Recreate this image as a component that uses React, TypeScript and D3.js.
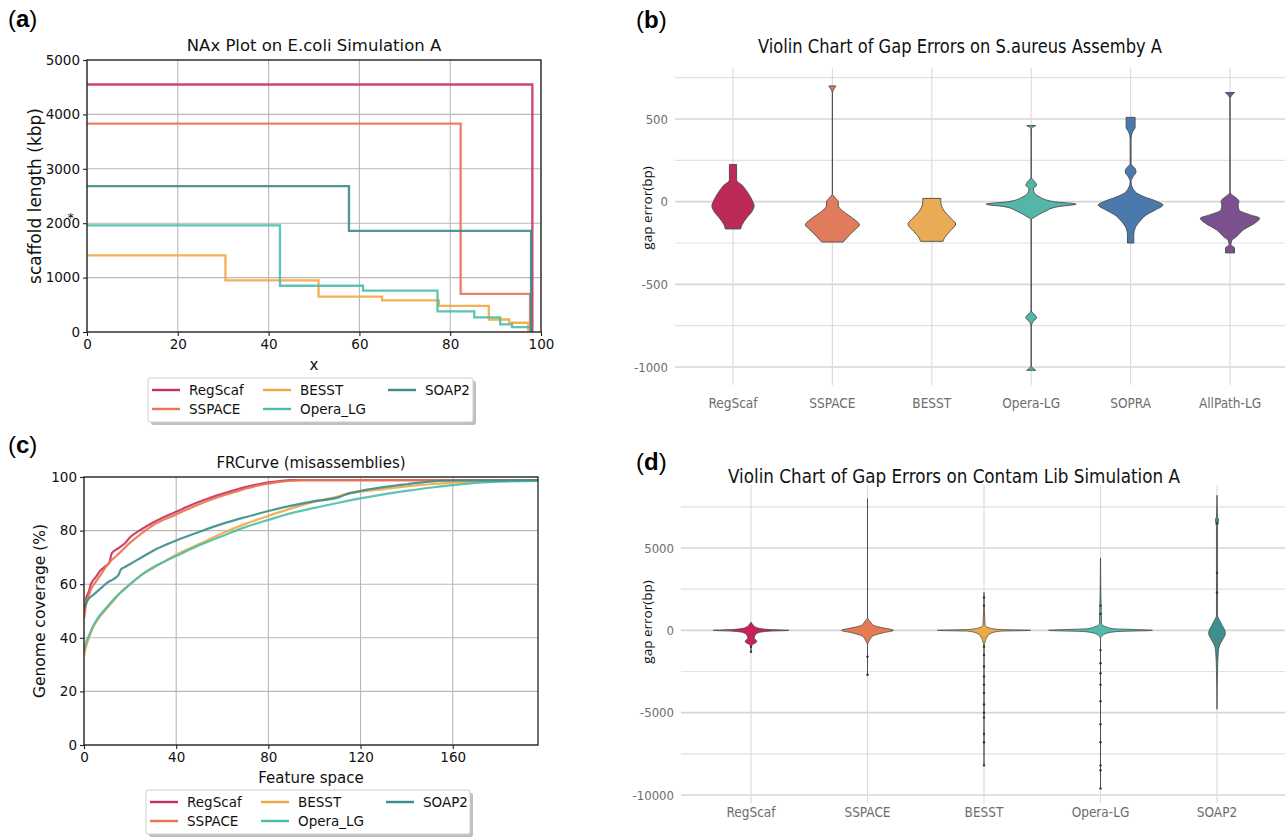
import { useEffect, useRef } from "react";
import * as d3 from "d3";

// ---- (a) NAx plot, step points [x, kbp] ----
const mplSeries = ["RegScaf", "SSPACE", "BESST", "Opera_LG", "SOAP2"];
const mplColors = ["#c7315c", "#ea7350", "#f2a744", "#4bbdaa", "#3b8c8b"];
const naxRegScaf = [[0, 4550], [98.1, 0]];
const naxSSPACE = [[0, 3830], [82.3, 700], [97.6, 0]];
const naxBESST = [[0, 1410], [30.5, 950], [51, 650], [65, 580], [77.5, 480], [88.5, 230], [93, 170], [97.2, 30], [97.6, 0]];
const naxOperaLG = [[0, 1960], [42.5, 850], [60.8, 760], [77.2, 380], [85.3, 270], [91, 140], [93.6, 90], [97.8, 0]];
const naxSOAP2 = [[0, 2680], [57.7, 1860], [97.8, 0]];
const naxXTicks = [0, 20, 40, 60, 80, 100];
const naxYTicks = [0, 1000, 2000, 3000, 4000, 5000];

// ---- (c) FRCurve points [feature space, coverage %] ----
const frRegScaf = [[0, 49], [0.5, 52], [1, 55], [2, 57], [3, 60], [4, 61.5], [5, 62.5], [7, 65], [9, 66.5], [11, 68], [12, 71.5], [15, 73.5], [18, 75.5], [20, 77.5], [25, 80.5], [30, 83], [35, 85.2], [40, 87], [45, 89], [50, 90.8], [55, 92.3], [60, 93.7], [65, 95], [70, 96.2], [75, 97.2], [80, 98], [85, 98.5], [90, 98.8], [197, 98.8]];
const frSSPACE = [[0, 47], [0.5, 50], [1, 53], [2, 55.5], [3, 58], [4, 59.5], [6, 62], [8, 64.5], [10, 67], [12, 69], [14, 70.5], [17, 73], [20, 75.5], [25, 79], [30, 82], [35, 84.2], [40, 86], [45, 88], [50, 89.8], [55, 91.5], [60, 93], [65, 94.3], [70, 95.6], [75, 96.7], [80, 97.5], [85, 98.2], [90, 98.6], [95, 98.8], [197, 98.8]];
const frBESST = [[0, 33], [1, 37], [2, 39.5], [3, 42], [4, 44], [5, 45.5], [7, 48], [10, 51], [13, 54], [16, 57], [20, 60], [25, 63.5], [30, 66], [35, 68.5], [40, 71], [50, 75], [60, 79], [70, 82.5], [80, 85.5], [90, 88.3], [100, 90.8], [110, 92.7], [115, 94], [120, 94.5], [130, 95.5], [140, 96.5], [150, 97.3], [160, 97.9], [170, 98.4], [197, 98.6]];
const frOperaLG = [[0, 35], [1, 38.5], [2, 40.5], [3, 42.5], [4, 44.5], [5, 46], [7, 48.5], [10, 51.5], [13, 54.5], [16, 57], [20, 60], [25, 63.5], [30, 66.3], [35, 68.5], [40, 70.5], [50, 74.5], [60, 78], [70, 81.3], [80, 84], [90, 86.5], [100, 88.5], [110, 90.3], [120, 92], [130, 93.5], [140, 94.8], [150, 96], [160, 97], [170, 97.8], [180, 98.3], [197, 98.5]];
const frSOAP2 = [[0, 51], [1, 53], [2, 54.5], [4, 56], [6, 57.5], [8, 59], [10, 60.5], [13, 62], [15, 63.5], [16, 65.5], [18, 66.5], [22, 68.5], [26, 70.5], [30, 72.5], [35, 74.5], [40, 76.3], [50, 79.5], [60, 82.5], [70, 85], [80, 87.3], [90, 89.3], [100, 91], [110, 92.3], [113, 93.3], [120, 94.8], [130, 96.2], [140, 97.3], [150, 98.3], [160, 98.7], [197, 98.8]];
const frXTicks = [0, 40, 80, 120, 160];
const frYTicks = [0, 20, 40, 60, 80, 100];

// ---- (b) violins: [gap error, relative density] ----
const bCategories = ["RegScaf", "SSPACE", "BESST", "Opera-LG", "SOPRA", "AllPath-LG"];
const bColors = ["#bd2a58", "#e07b5b", "#e9ab53", "#55b6a7", "#4a79ab", "#7b5190"];
const bRegScaf = [[225, 0.08], [130, 0.08], [100, 0.2], [50, 0.34], [0, 0.44], [-25, 0.47], [-60, 0.42], [-100, 0.3], [-140, 0.2], [-165, 0.17]];
const bSSPACE = [[700, 0.08], [655, 0], [50, 0], [30, 0.04], [0, 0.13], [-20, 0.13], [-50, 0.2], [-80, 0.35], [-110, 0.5], [-140, 0.6], [-170, 0.5], [-210, 0.35], [-244, 0.24]];
const bBESST = [[20, 0.2], [0, 0.2], [-50, 0.26], [-100, 0.42], [-135, 0.53], [-180, 0.4], [-220, 0.28], [-240, 0.25]];
const bOperaLG = [[460, 0.1], [440, 0], [150, 0], [120, 0.08], [100, 0.12], [80, 0.05], [60, 0.06], [30, 0.18], [0, 0.5], [-15, 1.0], [-30, 0.6], [-60, 0.3], [-90, 0.1], [-110, 0], [-660, 0], [-690, 0.1], [-700, 0.12], [-730, 0.03], [-760, 0], [-990, 0], [-1020, 0.1]];
const bSOPRA = [[510, 0.1], [450, 0.1], [420, 0.04], [380, 0.01], [230, 0.01], [200, 0.1], [180, 0.12], [150, 0.05], [120, 0.01], [60, 0.1], [30, 0.3], [0, 0.6], [-20, 0.72], [-50, 0.55], [-80, 0.35], [-120, 0.2], [-160, 0.1], [-200, 0.07], [-250, 0.07]];
const bAllPathLG = [[660, 0.1], [620, 0], [60, 0], [40, 0.05], [20, 0.15], [0, 0.2], [-20, 0.18], [-50, 0.2], [-80, 0.45], [-100, 0.66], [-130, 0.55], [-170, 0.3], [-210, 0.15], [-235, 0.04], [-260, 0.02], [-280, 0.1], [-310, 0.1]];
const bYTicks = [500, 0, -500, -1000];

// ---- (d) violins: [gap error, relative density] and outlier dots ----
const dCategories = ["RegScaf", "SSPACE", "BESST", "Opera-LG", "SOAP2"];
const dColors = ["#c8215a", "#e57a55", "#e9ac45", "#50bcae", "#3f8e8f"];
const dRegScaf = [[500, 0], [300, 0.05], [150, 0.12], [50, 0.35], [0, 0.73], [-50, 0.35], [-150, 0.14], [-300, 0.08], [-500, 0.06], [-600, 0.1], [-700, 0.11], [-850, 0.04], [-1000, 0], [-1300, 0]];
const dSSPACE = [[8000, 0], [800, 0], [500, 0.06], [300, 0.12], [150, 0.3], [0, 0.5], [-150, 0.3], [-350, 0.1], [-600, 0.04], [-900, 0], [-2700, 0]];
const dBESST = [[2300, 0], [300, 0.02], [150, 0.1], [50, 0.3], [0, 0.9], [-50, 0.3], [-200, 0.12], [-400, 0.06], [-700, 0.02], [-900, 0], [-8200, 0]];
const dOperaLG = [[4400, 0], [400, 0.02], [200, 0.12], [100, 0.25], [0, 1.0], [-80, 0.3], [-200, 0.1], [-350, 0.03], [-500, 0], [-9600, 0]];
const dSOAP2 = [[8200, 0], [6900, 0.01], [6700, 0.03], [6300, 0.01], [900, 0.01], [600, 0.05], [300, 0.1], [0, 0.15], [-200, 0.16], [-500, 0.12], [-900, 0.05], [-1300, 0.025], [-2500, 0.01], [-4800, 0]];
const dDotsRegScaf = [-1000, -1300];
const dDotsSSPACE = [-1600, -2700];
const dDotsBESST = [2000, 1500, -1000, -1500, -2200, -2800, -3300, -3800, -4500, -5000, -5300, -6300, -6800, -8200];
const dDotsOperaLG = [1500, 1000, -1200, -2000, -2600, -3300, -4300, -5700, -6800, -8200, -8500, -9600];
const dDotsSOAP2 = [6500, 3500, 2300];
const dYTicks = [5000, 0, -5000, -10000];

const MPL_FONT = "'DejaVu Sans', sans-serif";
const GG_FONT = "'Liberation Sans Narrow', 'DejaVu Sans Condensed', 'Liberation Sans', sans-serif";

const App = () => {
  const svgRef = useRef<SVGSVGElement | null>(null);

  useEffect(() => {
    const svg = d3.select(svgRef.current);
    svg.selectAll("*").remove();

    const panelLabel = (x: number, y: number, letter: string) => {
      const t = svg.append("text").attr("x", x).attr("y", y)
        .attr("font-family", "'Liberation Sans', Arial, sans-serif").attr("font-size", 24).attr("fill", "#000");
      t.append("tspan").text("(");
      t.append("tspan").attr("font-weight", "bold").text(letter);
      t.append("tspan").text(")");
    };

    // matplotlib style panel
    const mplPanel = (o: any) => {
      const x = d3.scaleLinear().domain(o.xDomain).range([o.L, o.R]);
      const y = d3.scaleLinear().domain(o.yDomain).range([o.B, o.T]);
      const g = svg.append("g");
      g.selectAll(".gx").data(o.xTicks).join("line")
        .attr("x1", (d: number) => x(d)).attr("x2", (d: number) => x(d))
        .attr("y1", o.T).attr("y2", o.B).attr("stroke", "#b8b8b8").attr("stroke-width", 1.1);
      g.selectAll(".gy").data(o.yTicks).join("line")
        .attr("y1", (d: number) => y(d)).attr("y2", (d: number) => y(d))
        .attr("x1", o.L).attr("x2", o.R).attr("stroke", "#b8b8b8").attr("stroke-width", 1.1);

      const clipId = "clip" + o.id;
      svg.append("clipPath").attr("id", clipId).append("rect")
        .attr("x", o.L).attr("y", o.T - 2).attr("width", o.R - o.L + 2).attr("height", o.B - o.T + 2);
      const line = d3.line<number[]>().x((d) => x(d[0])).y((d) => y(d[1])).curve(o.curve);
      const lg = g.append("g").attr("clip-path", `url(#${clipId})`);
      o.series.forEach((s: number[][], i: number) => {
        lg.append("path").datum(s).attr("fill", "none").attr("stroke", mplColors[i])
          .attr("stroke-width", o.lw).attr("stroke-opacity", 0.9).attr("d", line);
      });

      g.append("rect").attr("x", o.L).attr("y", o.T).attr("width", o.R - o.L).attr("height", o.B - o.T)
        .attr("fill", "none").attr("stroke", "#222").attr("stroke-width", 1.3);

      const xa = g.append("g").attr("transform", `translate(0,${o.B})`)
        .call(d3.axisBottom(x).tickValues(o.xTicks).tickSize(4).tickPadding(3).tickFormat(d3.format("d")));
      const ya = g.append("g").attr("transform", `translate(${o.L},0)`)
        .call(d3.axisLeft(y).tickValues(o.yTicks).tickSize(4).tickPadding(3).tickFormat(d3.format("d")));
      [xa, ya].forEach((a) => {
        a.select(".domain").remove();
        a.selectAll("line").attr("stroke", "#222").attr("stroke-width", 1.1);
        a.selectAll("text").attr("font-family", MPL_FONT).attr("font-size", 13.5).attr("fill", "#111");
      });

      g.append("text").attr("x", (o.L + o.R) / 2).attr("y", o.T - 9).attr("text-anchor", "middle")
        .attr("font-family", MPL_FONT).attr("font-size", o.titleSize).attr("fill", "#111").text(o.title);
      g.append("text").attr("x", (o.L + o.R) / 2).attr("y", o.xLabelY).attr("text-anchor", "middle")
        .attr("font-family", MPL_FONT).attr("font-size", 15).attr("fill", "#111").text(o.xLabel);
      g.append("text").attr("transform", `translate(${o.yLabelX},${(o.T + o.B) / 2}) rotate(-90)`)
        .attr("text-anchor", "middle").attr("font-family", MPL_FONT).attr("font-size", o.yLabelSize)
        .attr("fill", "#111").text(o.yLabel);

      // legend
      const [lgX, lgY, lgW, lgH] = o.legend;
      g.append("rect").attr("x", lgX + 3).attr("y", lgY + 3).attr("width", lgW).attr("height", lgH)
        .attr("rx", 2).attr("fill", "#8a8a8a").attr("opacity", 0.55);
      g.append("rect").attr("x", lgX).attr("y", lgY).attr("width", lgW).attr("height", lgH)
        .attr("rx", 2).attr("fill", "#fff").attr("stroke", "#cfcfcf");
      const colX = [lgX + 4, lgX + 115, lgX + 240];
      mplSeries.forEach((name, i) => {
        const cx = colX[Math.floor(i / 2)];
        const cy = lgY + 12 + (i % 2) * o.legendRow;
        g.append("line").attr("x1", cx).attr("x2", cx + 28).attr("y1", cy).attr("y2", cy)
          .attr("stroke", mplColors[i]).attr("stroke-width", 2.4);
        g.append("text").attr("x", cx + 37).attr("y", cy + 5).attr("font-family", MPL_FONT)
          .attr("font-size", 13.5).attr("fill", "#111").text(name);
      });
      return { x, y };
    };

    panelLabel(8, 27, "a");
    const pa = mplPanel({
      id: "a", L: 87, R: 541, T: 60, B: 332, xDomain: [0, 100], yDomain: [0, 5000],
      xTicks: naxXTicks, yTicks: naxYTicks, lw: 2.3, curve: d3.curveStepAfter,
      series: [naxRegScaf, naxSSPACE, naxBESST, naxOperaLG, naxSOAP2],
      title: "NAx Plot on E.coli Simulation A", titleSize: 16.5, xLabel: "x", xLabelY: 370,
      yLabel: "scaffold length (kbp)", yLabelX: 41, yLabelSize: 17,
      legend: [148, 378, 325, 44], legendRow: 19,
    });
    svg.append("text").attr("x", pa.x(-3.6)).attr("y", pa.y(2000) - 1).attr("text-anchor", "middle")
      .attr("font-family", MPL_FONT).attr("font-size", 13).attr("fill", "#111").text("*");

    panelLabel(8, 453, "c");
    mplPanel({
      id: "c", L: 84, R: 538, T: 477, B: 745, xDomain: [0, 197], yDomain: [0, 100],
      xTicks: frXTicks, yTicks: frYTicks, lw: 2.2, curve: d3.curveMonotoneX,
      series: [frRegScaf, frSSPACE, frBESST, frOperaLG, frSOAP2],
      title: "FRCurve (misassemblies)", titleSize: 15, xLabel: "Feature space", xLabelY: 783,
      yLabel: "Genome coverage (%)", yLabelX: 45, yLabelSize: 15.5,
      legend: [146, 790, 324, 44], legendRow: 19,
    });

    // ggplot-style violin panel
    const ggPanel = (o: any) => {
      const y = d3.scaleLinear().domain(o.yDomain).range(o.yRange);
      const x = d3.scalePoint<string>().domain(o.categories).range(o.xRange);
      const w = d3.scaleLinear().domain([0, 1]).range([0, o.maxHalf]);
      const g = svg.append("g");
      g.selectAll(".gh").data(o.gridLines).join("line")
        .attr("x1", o.gridX[0]).attr("x2", o.gridX[1])
        .attr("y1", (d: number) => y(d)).attr("y2", (d: number) => y(d))
        .attr("stroke", (d: number) => (d % o.major === 0 ? "#d6d6d6" : "#e2e2e2"))
        .attr("stroke-width", (d: number) => (d % o.major === 0 ? 1.6 : 1.2));
      g.selectAll(".gv").data(o.categories).join("line")
        .attr("x1", (d: string) => x(d)).attr("x2", (d: string) => x(d))
        .attr("y1", o.gridY[0]).attr("y2", o.gridY[1]).attr("stroke", "#dcdcdc").attr("stroke-width", 1.2);

      o.violins.forEach((v: number[][], i: number) => {
        const cx = x(o.categories[i]) as number;
        const area = d3.area<number[]>().y((d) => y(d[0]))
          .x0((d) => cx - w(d[1])).x1((d) => cx + w(d[1])).curve(d3.curveMonotoneY);
        g.append("path").datum(v).attr("d", area).attr("fill", o.colors[i])
          .attr("stroke", "#4a4a4a").attr("stroke-width", o.strokeW).attr("stroke-linejoin", "round");
        if (o.dots) {
          g.selectAll(null).data(o.dots[i]).join("circle")
            .attr("cx", cx).attr("cy", (d: number) => y(d)).attr("r", 1.2).attr("fill", "#333");
        }
      });

      g.selectAll(".yt").data(o.yTicks).join("text")
        .attr("x", o.gridX[0] - 7).attr("y", (d: number) => y(d) + 4.5).attr("text-anchor", "end")
        .attr("font-family", GG_FONT).attr("font-size", 13).attr("fill", "#6d6d6d").text((d: number) => d);
      g.selectAll(".xt").data(o.categories).join("text")
        .attr("x", (d: string) => x(d)).attr("y", o.xLabelY).attr("text-anchor", "middle")
        .attr("font-family", GG_FONT).attr("font-size", 13.5).attr("fill", "#6d6d6d").text((d: string) => d);
      g.append("text").attr("x", o.titleX).attr("y", o.titleY).attr("text-anchor", "middle")
        .attr("font-family", GG_FONT).attr("font-size", 19).attr("fill", "#111")
        .attr("textLength", o.titleLen).attr("lengthAdjust", "spacingAndGlyphs").text(o.title);
      g.append("text").attr("transform", `translate(${o.yLabelPos[0]},${o.yLabelPos[1]}) rotate(-90)`)
        .attr("text-anchor", "middle").attr("font-family", "'Open Sans', sans-serif").attr("font-size", 13.5)
        .attr("fill", "#111").text("gap error(bp)");
    };

    panelLabel(636, 28, "b");
    ggPanel({
      categories: bCategories, colors: bColors, xRange: [733, 1230],
      yDomain: [-1000, 500], yRange: [367, 119], maxHalf: 45, strokeW: 0.9,
      gridLines: d3.range(-1000, 751, 250), major: 500, gridX: [675, 1285], gridY: [68, 385],
      violins: [bRegScaf, bSSPACE, bBESST, bOperaLG, bSOPRA, bAllPathLG],
      yTicks: bYTicks, xLabelY: 408,
      title: "Violin Chart of Gap Errors on S.aureus Assemby A", titleX: 960, titleY: 53, titleLen: 404,
      yLabelPos: [652, 208],
    });

    panelLabel(636, 470, "d");
    ggPanel({
      categories: dCategories, colors: dColors, xRange: [751, 1217],
      yDomain: [-10000, 5000], yRange: [795, 548], maxHalf: 52, strokeW: 0.8,
      gridLines: d3.range(-10000, 7501, 2500), major: 5000, gridX: [681, 1285], gridY: [485, 803],
      violins: [dRegScaf, dSSPACE, dBESST, dOperaLG, dSOAP2],
      dots: [dDotsRegScaf, dDotsSSPACE, dDotsBESST, dDotsOperaLG, dDotsSOAP2],
      yTicks: dYTicks, xLabelY: 817,
      title: "Violin Chart of Gap Errors on Contam Lib Simulation A", titleX: 954, titleY: 483, titleLen: 452,
      yLabelPos: [652, 622],
    });
  }, []);

  return (
    <svg ref={svgRef} width={1287} height={837}
      style={{ position: "absolute", left: 0, top: 0, background: "#fff" }} />
  );
};

export default App;
